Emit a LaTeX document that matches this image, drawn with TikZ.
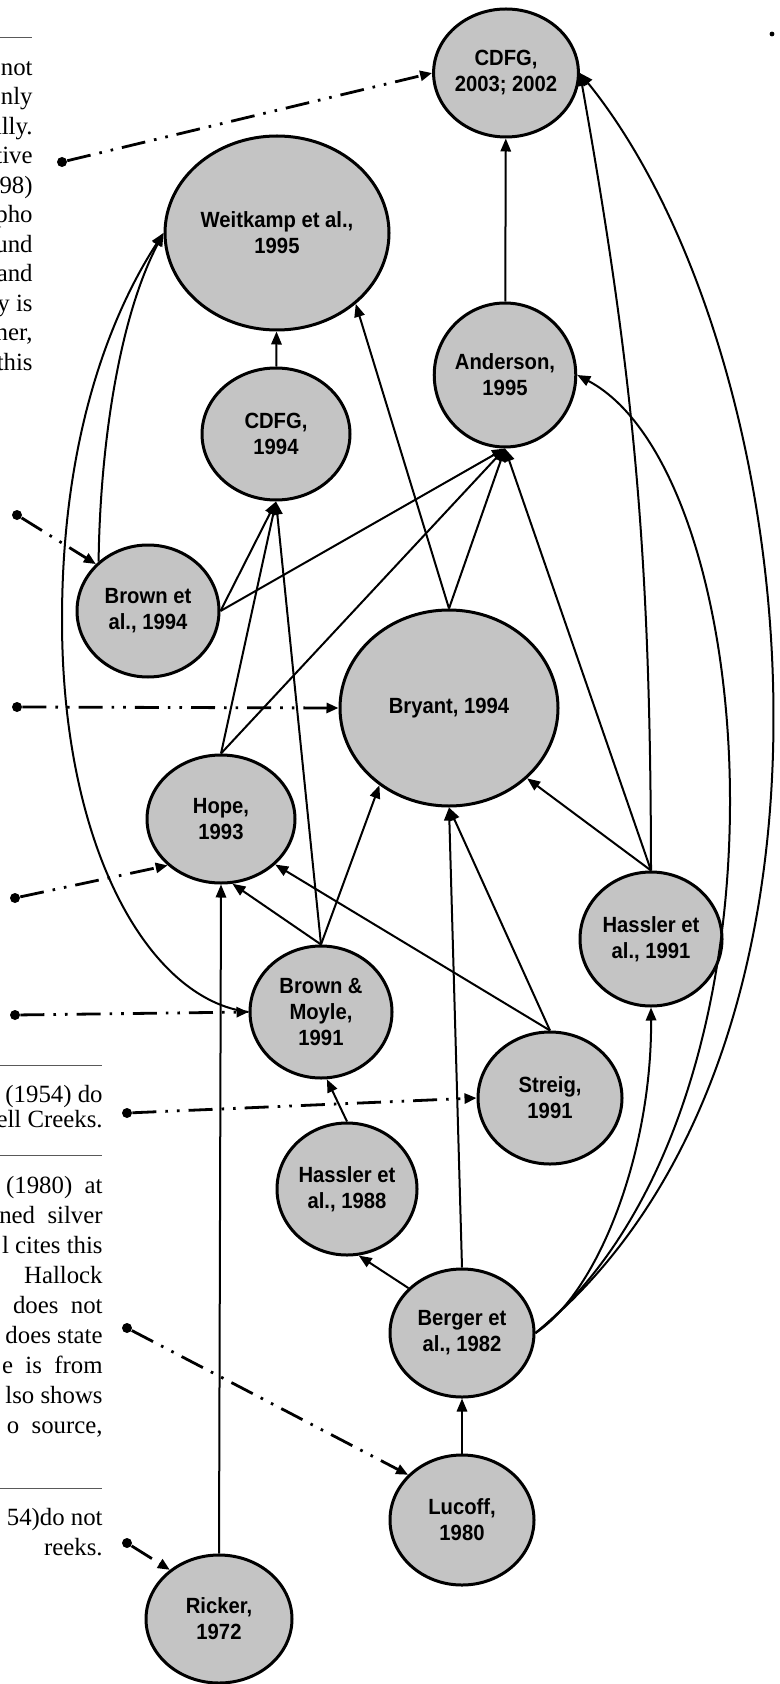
\documentclass[tikz,border=0pt]{standalone}
\usepackage{fontspec}
\setmainfont{Liberation Serif}
\newfontfamily\citefont[FakeStretch=0.92]{Liberation Sans}
\usetikzlibrary{arrows.meta,shapes.geometric}

\definecolor{StippleGray}{RGB}{196,196,196}

\tikzset{
	work/.style 2 args={ellipse, draw, line width=1.5pt, fill=StippleGray,
		minimum width={#1*0.5pt}, minimum height={#2*0.5pt}, inner sep=0pt,
		align=center, font=\citefont\bfseries\fontsize{11}{13}\selectfont},
	cites/.style={line width=1pt, -{Triangle[length=6.5pt,width=5.2pt]}},
	pointer/.style={line width=1.4pt,
		dash pattern=on 12pt off 4.5pt on 1.3pt off 4.5pt on 1.3pt off 4.5pt,
		-{Triangle[length=6pt,width=5pt]}},
	srcdot/.style={circle, fill, inner sep=0pt, minimum size=5pt},
	pagetext/.style={inner sep=0pt, align=right, anchor=north east},
	pagerule/.style={line width=0.5pt, black!65}
}

\begin{document}
\begin{tikzpicture}[x=0.5pt, y=-0.5pt]
	\useasboundingbox (0,0) rectangle (780,1684);

	% cut-off page text on the left
	\draw[pagerule] (0,38) -- (32,38);
	\node[pagetext, font=\fontsize{12.4}{14.75}\selectfont] (txtA) at (33,61)
		{not\\only\\ally.\\tive\\98)\\pho\\und\\and\\y is\\her,\\this};
	\draw[pagerule] (0,1065) -- (102,1065);
	\node[pagetext, font=\fontsize{12.4}{12.5}\selectfont] (txtB) at (103,1085)
		{(1954) do\\ell Creeks.};
	\draw[pagerule] (0,1155) -- (102,1155);
	\node[pagetext, font=\fontsize{12.4}{15}\selectfont] (txtC) at (103,1176)
		{(1980)\ \ at\\ned\ \ silver\\l cites this\\Hallock\\does\ \ not\\does state\\e\ \ is\ \ from\\lso shows\\o\ \ source,};
	\draw[pagerule] (0,1488) -- (102,1488);
	\node[pagetext, font=\fontsize{12.4}{15}\selectfont] (txtD) at (103,1508)
		{54)do not\\reeks.};
	\fill (772,34) circle (1.2pt);

	% cited works
	\node[work={140}{128}] (cdfgA) at (506,73) {CDFG,\\2003; 2002};
	\node[work={224}{194}] (weit) at (277,233) {Weitkamp et al.,\\1995};
	\node[work={140}{144}] (anderson) at (505,375) {Anderson,\\1995};
	\node[work={148}{132}] (cdfgB) at (276,434) {CDFG,\\1994};
	\node[work={142}{132}] (brownEt) at (148,611) {Brown et\\al., 1994};
	\node[work={218}{196}] (bryant) at (449,708) {Bryant, 1994};
	\node[work={148}{128}] (hope) at (221,819) {Hope,\\1993};
	\node[work={142}{134}] (hassA) at (651,939) {Hassler et\\al., 1991};
	\node[work={142}{132}] (bm) at (321,1012) {Brown \&\\Moyle,\\1991};
	\node[work={144}{132}] (streig) at (550,1098) {Streig,\\1991};
	\node[work={140}{132}] (hassB) at (347,1189) {Hassler et\\al., 1988};
	\node[work={144}{128}] (berger) at (462,1333) {Berger et\\al., 1982};
	\node[work={144}{130}] (lucoff) at (462,1520) {Lucoff,\\1980};
	\node[work={146}{128}] (ricker) at (219,1619) {Ricker,\\1972};

	% dots for the notes
	\node[srcdot] (dA) at (62,162) {};
	\node[srcdot] (dB) at (17,515) {};
	\node[srcdot] (dC) at (17,707) {};
	\node[srcdot] (dD) at (15,898) {};
	\node[srcdot] (dE) at (15,1015) {};
	\node[srcdot] (dF) at (127,1113) {};
	\node[srcdot] (dG) at (127,1328) {};
	\node[srcdot] (dH) at (127,1543) {};

	\draw[pointer] (dA) -- (cdfgA.west);
	\draw[pointer] (dB) -- (brownEt.138);
	\draw[pointer] (dC) -- (bryant.west);
	\draw[pointer] (dD) -- (hope.221);
	\draw[pointer] (dE) -- (bm.west);
	\draw[pointer] (dF) -- (streig.west);
	\draw[pointer] (dG) -- (lucoff.140);
	\draw[pointer] (dH) -- (ricker.135);

	% citations
	\draw[cites] (anderson) -- (cdfgA);
	\draw[cites] (cdfgB) -- (weit);
	\draw[cites] (bryant.north) -- (weit.-42);
	\draw[cites] (bryant.north) -- (anderson.south);
	\draw[cites] (brownEt.east) -- (cdfgB.south);
	\draw[cites] (brownEt.east) -- (anderson.south);
	\draw[cites] (brownEt.135) .. controls (100,450) and (118,320) .. (weit.west);
	\draw[cites] (hope.north) -- (cdfgB.south);
	\draw[cites] (hope.north) -- (anderson.south);
	\draw[cites] (bm.north) -- (cdfgB.south);
	\draw[cites] (bm.north) -- (hope.-80);
	\draw[cites] (bm.north) -- (bryant.-132);
	\draw[cites] (bm.west) .. controls (150,1000) and (62,850) .. (62,620)
		.. controls (62,420) and (120,300) .. (weit.west);
	\draw[cites] (streig.north) -- (hope.-40);
	\draw[cites] (streig.north) -- (bryant.south);
	\draw[cites] (hassA.north) -- (bryant.-42);
	\draw[cites] (hassA.north) -- (anderson.south);
	\draw[cites] (hassA.north) to[bend right=5] (cdfgA.east);
	\draw[cites] (hassB.north) -- (bm.-85);
	\draw[cites] (berger.north) -- (bryant.south);
	\draw[cites] (berger.140) -- (hassB.-80);
	\draw[cites] (berger.east) .. controls (600,1290) and (652,1150) .. (hassA.south);
	\draw[cites] (berger.east) .. controls (807,1110) and (765,475) .. (anderson.east);
	\draw[cites] (berger.east) .. controls (881,1050) and (807,354) .. (cdfgA.east);
	\draw[cites] (lucoff) -- (berger);
	\draw[cites] (ricker.north) -- (hope.south);
\end{tikzpicture}
\end{document}
